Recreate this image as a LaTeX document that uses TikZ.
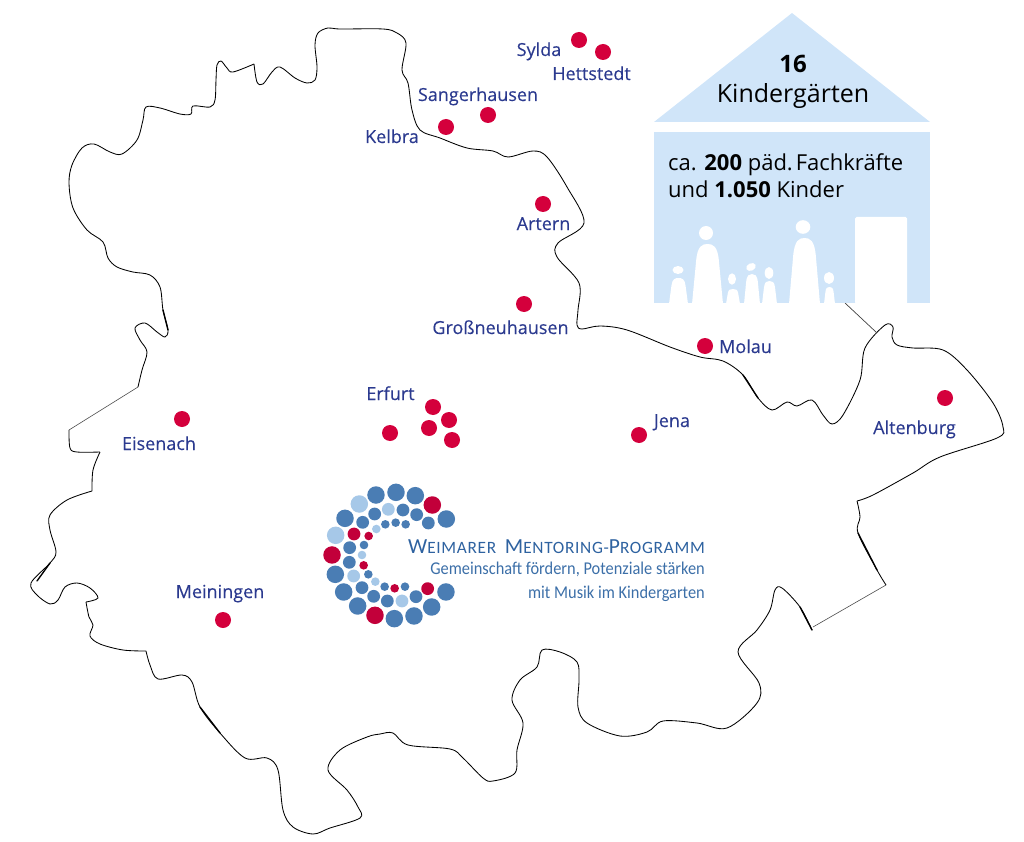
\documentclass[tikz,border=0pt]{standalone}
\usepackage{fontspec}
\setmainfont{Open Sans}
\newfontfamily\placefont[FakeBold=0.25]{Open Sans}
\newfontfamily\logoplain{Carlito}
\definecolor{navy}{HTML}{2B3A8F}
\definecolor{dotred}{HTML}{D4003C}
\definecolor{logored}{HTML}{C2003A}
\definecolor{logoblue}{HTML}{4A7DB4}
\definecolor{logolight}{HTML}{A6C8E8}
\definecolor{logotext}{HTML}{3C6FA8}
\definecolor{logotitle}{HTML}{2E62A0}
\definecolor{house}{HTML}{D0E5F9}
\newcommand{\kidbody}[3]{% xl xr top
  \fill[white] (#1,304) -- ({#1+0.13*(#2-#1)},{#3+0.3*(303-#3)}) .. controls ({#1+0.17*(#2-#1)},{#3+0.03*(303-#3)}) and ({#1+0.33*(#2-#1)},#3) .. ({(#1+#2)/2},#3)
    .. controls ({#2-0.33*(#2-#1)},#3) and ({#2-0.17*(#2-#1)},{#3+0.03*(303-#3)}) .. ({#2-0.13*(#2-#1)},{#3+0.3*(303-#3)}) -- (#2,304) -- cycle;}
\newcommand{\smc}[2]{{\fontsize{21.5}{22}\selectfont #1}{\fontsize{17.3}{22}\selectfont #2}}
\tikzset{
  place/.style={font=\placefont\fontsize{18}{20}\selectfont,text=navy,inner sep=0pt,anchor=base},
  spot/.style={circle,fill=dotred,draw=none,inner sep=0pt,minimum size=16pt},
  border/.style={line width=0.85pt,black,line join=round},
  heavy/.style={line width=1.35pt,black,line cap=round},
  lb/.style={circle,fill=logoblue,inner sep=0pt,minimum size=#1},
  ll/.style={circle,fill=logolight,inner sep=0pt,minimum size=#1},
  lr/.style={circle,fill=logored,inner sep=0pt,minimum size=#1},
}
\begin{document}
\begin{tikzpicture}[x=1pt,y=-1pt]
\useasboundingbox (0,0) rectangle (1024,842);
% outline
\draw[border] plot[smooth,tension=0.55] coordinates {(254,64) (257,82) (263,84) (272,72) (280,67) (295,78) (307,83) (315,80) (317,67) (315,45) (318,33) (328,28) (340,29) (383,29) (397,33) (406,43) (402,70) (408,83) (412,110) (420,130) (440,138) (467,148) (493,151) (508,157) (533,151) (547,157) (567,187) (584,223) (558,243) (557,257) (579,283) (578,310) (577,325) (582,329) (600,326) (627,330) (670,347) (700,357) (723,361) (743,375) (758,398) (772,410) (787,402) (797,406) (812,400) (823,415) (832,424) (843,415) (860,380) (865,348) (885,325) (893,327) (892,337) (897,345) (913,348) (943,350) (967,370) (993,403) (1003,427) (997,438) (940,457) (913,473) (873,495) (857,501)};
\draw[border] plot[smooth,tension=0.55] coordinates {(857,501) (860,517) (858,533) (877,570) (886,585)};
\draw[line width=0.6pt,black!70] (886,585) -- (813,627);
\draw[border] plot[smooth,tension=0.55] coordinates {(812,630) (800,607) (782,588) (775,590) (770,610) (757,630) (738,652) (759,683) (757,703) (727,728) (697,723) (663,721) (647,732) (620,736) (587,723) (578,707) (579,680) (577,662) (560,652) (542,650) (537,667) (520,680) (512,700) (523,723) (517,750) (515,773) (493,781) (483,778) (463,758) (450,749) (408,745) (393,733) (380,734) (367,737) (340,750) (328,770) (347,790) (358,807) (360,818) (330,828) (313,834) (293,827) (283,810) (278,770) (267,758) (245,758) (220,733) (200,707) (192,682) (182,675) (158,679) (150,665) (146,651)};
\draw[border] plot[smooth,tension=0.55] coordinates {(146,651) (123,650) (100,644) (90,636) (93,625) (89,617) (86,602)};
\draw[border] plot[smooth,tension=0.55] coordinates {(86,602) (98,598) (90,588) (77,583) (65,587) (58,600) (50,604) (37,595) (31,583) (50,563) (56,552) (50,530) (50,515) (67,500) (92,491)};
\draw[border] plot[smooth,tension=0.55] coordinates {(92,491) (93,470) (100,452)};
\draw[border] plot[smooth,tension=0.55] coordinates {(100,452) (77,452) (70,448) (69,430)};
\draw[line width=0.6pt,black!70] (69,430) -- (138,387);
\draw[border] plot[smooth,tension=0.55] coordinates {(138,387) (142,370) (147,352) (140,340) (135,328) (145,323) (157,332) (165,337) (168,330) (163,310) (160,287) (150,275) (133,272) (117,267) (108,258) (103,242) (87,230) (73,208) (69,183) (72,165) (82,148) (94,144) (110,152) (122,154) (137,140) (143,120) (146,107) (160,108) (180,114) (191,114) (193,106) (210,107) (215,100) (216,80) (217,65) (221,61) (227,68) (233,72) (254,64)};
% heavier stretches of the hand-drawn line
\draw[heavy] (743,375) -- (758,398);
\draw[heavy] (858,533) -- (877,570);
\draw[heavy] (800,607) -- (812,630);
\draw[heavy] (37,581) -- (50,563);
\draw[heavy] (200,707) -- (220,733);
\draw[heavy] (168,330) -- (163,310);
\draw[line width=0.7pt,black!75] (845,303) -- (877,333);
% house
\fill[house] (792,13) -- (930,122) -- (654,122) -- cycle;
\fill[house] (654,132) rectangle (930,303);
\fill[white,rounded corners=1.5pt] (855,217) rectangle (907,304);
\kidbody{669}{688}{278}
\kidbody{692}{723}{244}
\kidbody{726}{740}{289}
\kidbody{744}{760}{274}
\kidbody{762}{777}{281}
\kidbody{789}{820}{238}
\kidbody{824}{835}{287}
\fill[white] (678,270) ellipse [x radius=5.5,y radius=4];
\fill[white] (706,233) ellipse [x radius=7,y radius=7];
\fill[white] (732,279) ellipse [x radius=4,y radius=5.7];
\fill[white,rotate around={25:(751,267)}] (751,267) ellipse [x radius=5,y radius=3.7];
\fill[white] (769,273) ellipse [x radius=4.3,y radius=6];
\fill[white] (803,227) ellipse [x radius=7.3,y radius=6.8];
\fill[white] (829,278) ellipse [x radius=5,y radius=6];
\node[inner sep=0pt,anchor=base,font=\bfseries\fontsize{24}{28}\selectfont] (n16) at (793,73) {16};
\node[inner sep=0pt,anchor=base,font=\fontsize{25}{28}\selectfont] (nk) at (793,102.5) {Kindergärten};
\node[inner sep=0pt,anchor=base west,font=\fontsize{22}{25}\selectfont] (l1) at (668,171) {ca. \textbf{200} päd.\hspace{3pt}Fachkräfte};
\node[inner sep=0pt,anchor=base west,font=\fontsize{22}{25}\selectfont] (l2) at (668,198) {und \textbf{1.050} Kinder};
% places
\node[spot] (sylda) at (579,40) {};
\node[spot] (hett) at (603,52) {};
\node[spot] (sang) at (488,115) {};
\node[spot] (kelb) at (446,127) {};
\node[spot] (art) at (543,204) {};
\node[spot] (gross) at (524,304) {};
\node[spot] (mol) at (705,346) {};
\node[spot] (jen) at (639,435) {};
\node[spot] (alt) at (945,398) {};
\node[spot] (eis) at (182,419) {};
\node[spot] (er1) at (433,407) {};
\node[spot] (er2) at (449,420) {};
\node[spot] (er3) at (429,428) {};
\node[spot] (er4) at (452,440) {};
\node[spot] (er5) at (390,433) {};
\node[spot] (mei) at (223,620) {};
\node[place] (tsylda) at (539,56) {Sylda};
\node[place] (thett) at (591.5,80) {Hettstedt};
\node[place] (tsang) at (478,101) {Sangerhausen};
\node[place] (tkelb) at (392,143) {Kelbra};
\node[place] (tart) at (543.5,230) {Artern};
\node[place] (tgross) at (500.5,334) {Großneuhausen};
\node[place] (tmol) at (745.5,353) {Molau};
\node[place] (tjen) at (672,427) {Jena};
\node[place] (talt) at (914.5,434) {Altenburg};
\node[place] (teis) at (159,450) {Eisenach};
\node[place] (ter) at (390.5,400) {Erfurt};
\node[place] (tmei) at (220,598) {Meiningen};
% logo
\begin{scope}[shift={(310,475)},x=0.3333pt,y=-0.3333pt]
\foreach \px/\py in {198/60,258/52,316/62,409/132,105/130,76/298,101/351,143/393,253/431,312/423,365/396,408/351}
  \node[lb=17.5pt] at (\px,\py) {};
\foreach \px/\py in {148/87,77/181}
  \node[ll=17.5pt] at (\px,\py) {};
\foreach \px/\py in {367/90,66/240,195/421}
  \node[lr=17.5pt] at (\px,\py) {};
\foreach \px/\py in {158/142,194/117,279/105,320/119,355/144,119/218,118/262,156/338,191/364,232/378,318/365}
  \node[lb=12.8pt] at (\px,\py) {};
\foreach \px/\py in {235/103,131/303,276/378}
  \node[ll=12.8pt] at (\px,\py) {};
\foreach \px/\py in {132/177,353/341}
  \node[lr=12.8pt] at (\px,\py) {};
\foreach \px/\py in {226/148,257/143,287/148,162/210,175/298,224/335,285/335}
  \node[lb=8.6pt] at (\px,\py) {};
\foreach \px/\py in {199/162,156/240,196/320}
  \node[ll=8.6pt] at (\px,\py) {};
\foreach \px/\py in {176/183,161/271,254/340}
  \node[lr=8.6pt] at (\px,\py) {};
\end{scope}
\node[inner sep=0pt,anchor=base east,text=logotitle] (ltitle) at (705,553) {\logoplain\addfontfeature{LetterSpace=4}\smc{W}{EIMARER}\hspace{6pt} \smc{M}{ENTORING}{\fontsize{17.3}{22}\selectfont -}\smc{P}{ROGRAMM}};
\node[inner sep=0pt,anchor=base east,text=logotext] (ltwo) at (705,574) {\scalebox{0.91}[1]{\logoplain\fontsize{18}{22}\selectfont Gemeinschaft fördern, Potenziale stärken}};
\node[inner sep=0pt,anchor=base east,text=logotext] (lthree) at (705,598) {\scalebox{0.91}[1]{\logoplain\fontsize{18}{22}\selectfont mit Musik im Kindergarten}};
\end{tikzpicture}
\end{document}
